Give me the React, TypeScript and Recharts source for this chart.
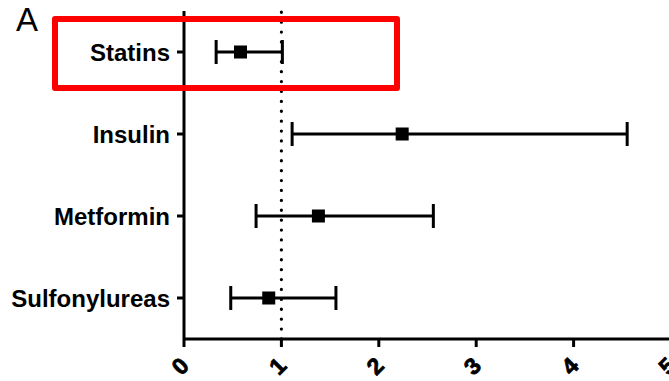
import React from 'react';
import {
  ScatterChart,
  Scatter,
  XAxis,
  YAxis,
  ErrorBar,
  ReferenceLine
} from 'recharts';

// Odds ratios with 95% CI per drug class
const drugs = ['Statins', 'Insulin', 'Metformin', 'Sulfonylureas'];
const estimate = [0.58, 2.24, 1.38, 0.87];
const lower = [0.33, 1.11, 0.74, 0.48];
const upper = [1.01, 4.55, 2.56, 1.56];
const xTicks = [0, 1, 2, 3, 4, 5];

const FONT = '"Liberation Sans", Arial, Helvetica, sans-serif';

const rows = drugs.map((name, i) => ({
  name,
  row: i + 1,
  or: estimate[i],
  ci: [estimate[i] - lower[i], upper[i] - estimate[i]]
}));

const DrugTick = (props: any) => {
  const { x, y, payload } = props;
  return (
    <text
      x={x - 5}
      y={y}
      dy="0.36em"
      textAnchor="end"
      fontFamily={FONT}
      fontWeight="bold"
      fontSize={24}
      fill="#000"
    >
      {drugs[payload.value - 1]}
    </text>
  );
};

// rotated bold digits under the x axis
const RatioTick = (props: any) => {
  const { x, y, payload } = props;
  const cx = x - 4;
  const cy = y + 17;
  return (
    <g transform={`translate(${cx} ${cy}) rotate(-45)`}>
      <text
        x={0}
        y={0}
        dy="0.36em"
        textAnchor="middle"
        style={{
          fontFamily: FONT,
          fontWeight: 700,
          fontSize: 23,
          fill: '#000',
          stroke: '#000',
          strokeWidth: 0.8
        }}
      >
        {payload.value}
      </text>
    </g>
  );
};

const SquareDot = (props: any) => {
  const { cx, cy } = props;
  return <rect x={cx - 6.5} y={cy - 6.5} width={13} height={13} fill="#000" />;
};

const App: React.FC = () => {
  return (
    <div
      style={{
        position: 'absolute',
        left: 0,
        top: 0,
        width: 669,
        height: 381,
        overflow: 'hidden',
        background: '#fff'
      }}
    >
      <ScatterChart
        width={680}
        height={381}
        margin={{ top: 11, right: 9, bottom: 0, left: 0 }}
      >
        <XAxis
          type="number"
          dataKey="or"
          domain={[0, 5]}
          ticks={xTicks}
          interval={0}
          height={42}
          tickSize={8}
          axisLine={{ stroke: '#000', strokeWidth: 3 }}
          tickLine={{ stroke: '#000', strokeWidth: 3 }}
          tick={(p: any) => <RatioTick {...p} />}
        />
        <YAxis
          type="number"
          dataKey="row"
          domain={[0.5, 4.5]}
          ticks={[1, 2, 3, 4]}
          interval={0}
          reversed
          width={184}
          tickSize={7}
          axisLine={{ stroke: '#000', strokeWidth: 3 }}
          tickLine={{ stroke: '#000', strokeWidth: 3 }}
          tick={<DrugTick />}
        />
        <ReferenceLine
          x={1}
          stroke="#000"
          strokeWidth={3.2}
          strokeDasharray="0.1 9.8"
          strokeLinecap="round"
        />
        <Scatter data={rows} shape={<SquareDot />} isAnimationActive={false}>
          <ErrorBar
            dataKey="ci"
            direction="x"
            width={12}
            stroke="#000"
            strokeWidth={3}
            isAnimationActive={false}
          />
        </Scatter>
      </ScatterChart>

      {/* panel letter */}
      <div
        style={{
          position: 'absolute',
          left: 16,
          top: 1,
          fontFamily: FONT,
          fontSize: 33,
          lineHeight: '38px',
          color: '#000'
        }}
      >
        A
      </div>

      {/* highlight box around the first row */}
      <div
        style={{
          position: 'absolute',
          left: 52,
          top: 16,
          width: 348,
          height: 75,
          boxSizing: 'border-box',
          border: '6px solid #ff0000',
          borderRadius: 3
        }}
      />
    </div>
  );
};

export default App;
